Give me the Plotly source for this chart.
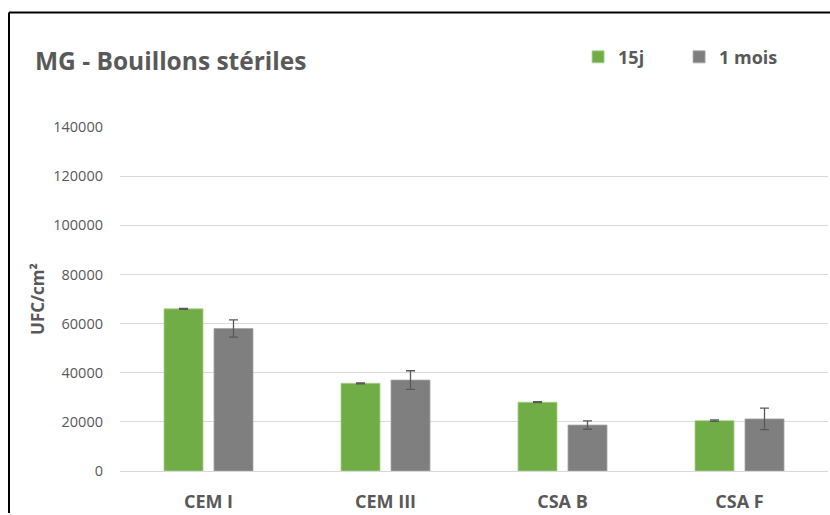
import plotly.graph_objects as go

# Sample categories and measured counts (UFC/cm²)
categories = ["CEM I", "CEM III", "CSA B", "CSA F"]
values_15j = [66000, 35700, 28000, 20500]
errors_15j = [200, 200, 200, 300]
values_1mois = [58000, 37000, 18700, 21200]
errors_1mois = [3500, 3800, 1700, 4400]
y_ticks = [0, 20000, 40000, 60000, 80000, 100000, 120000, 140000]

GREEN = "#70AD47"
GREY = "#7F7F7F"
TEXT = "#595959"
FONT = "Open Sans"

fig = go.Figure()
fig.add_trace(go.Bar(
    name="15j", x=categories, y=values_15j,
    marker=dict(color=GREEN, line=dict(color="#A9D18E", width=0.8)),
    error_y=dict(type="data", array=errors_15j, color=TEXT, thickness=1.3, width=4.5),
))
fig.add_trace(go.Bar(
    name="1 mois", x=categories, y=values_1mois,
    marker=dict(color=GREY, line=dict(color="#A6A6A6", width=0.8)),
    error_y=dict(type="data", array=errors_1mois, color=TEXT, thickness=1.3, width=4.5),
))

fig.update_layout(
    width=830, height=515,
    margin=dict(l=120, r=2, t=127, b=44),
    paper_bgcolor="white", plot_bgcolor="white",
    barmode="group", bargap=0.435, bargroupgap=0.22,
    font=dict(family=FONT, color=TEXT),
    showlegend=True,
    legend=dict(
        orientation="h", x=0.647, y=1.203, xanchor="left", yanchor="middle",
        font=dict(family=FONT, size=18, color=TEXT, weight="bold"),
        itemwidth=30, traceorder="normal",
        entrywidth=56, entrywidthmode="pixels",
    ),
    xaxis=dict(
        showgrid=False, showline=False, ticks="",
        tickfont=dict(family=FONT, size=18, color=TEXT, weight="bold"),
        ticklabelstandoff=18,
    ),
    yaxis=dict(
        range=[0, 140000], tickvals=y_ticks, ticktext=[str(v) for v in y_ticks],
        showgrid=True, gridcolor="#D9D9D9", gridwidth=1.2,
        zeroline=True, zerolinecolor="#D9D9D9", zerolinewidth=1.2,
        showline=False, ticks="",
        tickfont=dict(family=FONT, size=14.5, color=TEXT),
        ticklabelstandoff=16,
        title=dict(text="UFC/cm²", font=dict(family=FONT, size=17, color=TEXT, weight="bold"),
                   standoff=4),
    ),
    annotations=[dict(
        text="<b>MG - Bouillons stériles</b>", xref="paper", yref="paper",
        x=(33 - 120) / 708, y=(471 - 60) / 344, xanchor="left", yanchor="middle",
        showarrow=False, font=dict(family=FONT, size=24.5, color=TEXT),
    )],
    shapes=[
        dict(type="line", xref="paper", yref="paper",
             x0=(9 - 120) / 708, x1=(830 - 120) / 708,
             y0=(471 - 12.5) / 344, y1=(471 - 12.5) / 344,
             line=dict(color="black", width=2)),
        dict(type="line", xref="paper", yref="paper",
             x0=(9 - 120) / 708, x1=(9 - 120) / 708,
             y0=(471 - 12.5) / 344, y1=(471 - 513) / 344,
             line=dict(color="black", width=2)),
    ],
)

fig.write_html("out.html")
